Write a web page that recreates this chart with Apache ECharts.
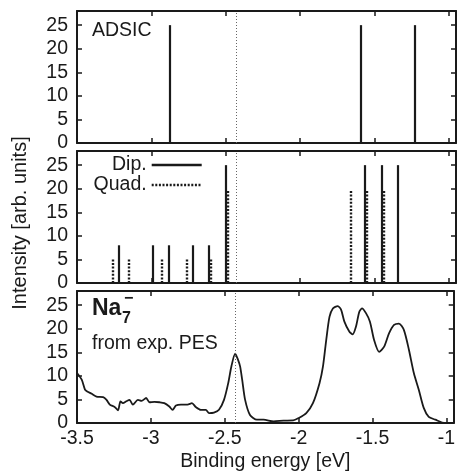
<!DOCTYPE html>
<html><head><meta charset="utf-8">
<script src="https://cdn.jsdelivr.net/npm/echarts@6/dist/echarts.min.js"></script>
<style>html,body{margin:0;padding:0;background:#fff}#c{width:458px;height:475px}</style>
</head><body><div id="c"></div>
<script>
// ---- data ----
const xTickLabels = ['-3.5', '-3', '-2.5', '-2', '-1.5', '-1'];
const yTickLabels = ['0', '5', '10', '15', '20', '25'];
const refLineE = -2.43;

const adsicE = [-2.875, -1.593, -1.228];
const adsicI = [25, 25, 25];

const dipE = [-3.218, -2.991, -2.880, -2.718, -2.611, -2.497, -1.563, -1.450, -1.341];
const dipI = [8, 8, 8, 8, 8, 25, 25, 25, 25];

const quadE = [-3.260, -3.149, -2.929, -2.759, -2.598, -2.485, -1.661, -1.549, -1.439];
const quadI = [5, 5, 5, 5, 5, 19.5, 19.5, 19.5, 19.5];

const pesE = [-3.5, -3.468, -3.446, -3.431, -3.401, -3.368, -3.323, -3.300, -3.278, -3.245, -3.222,
  -3.206, -3.189, -3.166, -3.144, -3.122, -3.088, -3.063, -3.032, -3.009, -2.976, -2.942, -2.909,
  -2.875, -2.853, -2.830, -2.796, -2.752, -2.722, -2.696, -2.662, -2.628, -2.606, -2.573, -2.539,
  -2.505, -2.476, -2.455, -2.429, -2.411, -2.396, -2.382, -2.362, -2.329, -2.282, -2.237, -2.169,
  -2.102, -2.037, -2.003, -1.948, -1.903, -1.858, -1.835, -1.813, -1.791, -1.768, -1.735, -1.712,
  -1.690, -1.657, -1.634, -1.612, -1.589, -1.571, -1.544, -1.517, -1.489, -1.455, -1.421, -1.388,
  -1.354, -1.321, -1.287, -1.253, -1.220, -1.186, -1.153, -1.119, -1.074, -1.029, -0.995];
const pesI = [10.6, 9.2, 7.1, 6.7, 6.2, 5.6, 5.5, 4.9, 3.9, 3.4, 2.7,
  4.6, 4.2, 4.6, 4.9, 3.9, 4.9, 4.7, 5.3, 4.4, 4.5, 4.4, 4.2,
  3.5, 2.8, 3.7, 3.9, 3.9, 4.2, 3.4, 2.8, 2.8, 2.1, 2.2, 2.8,
  4.9, 8.5, 12, 14.7, 13.5, 12, 9.2, 4.9, 1.7, 0.7, 0.7, 0.35,
  0.5, 0.55, 1.0, 2.1, 4.2, 8.5, 12, 17.6, 22.5, 24.3, 24.8, 24,
  21.5, 19.4, 18.8, 20.4, 23.6, 24.3, 23.3, 21.5, 17.6, 15.1, 16.2, 19,
  20.8, 21.1, 19.7, 15.5, 10.6, 7, 3.2, 1.3, 0.7, 0.1, 0];

// ---- styling ----
const FONT = "'Liberation Sans', Arial, sans-serif";
const INK = '#1a1a1a';
const FS = 19.5;

const grids = [
  { left: 77, width: 379, top: 11, height: 132 },
  { left: 77, width: 379, top: 151, height: 132 },
  { left: 77, width: 379, top: 291, height: 132 }
];

const xFmt = v => { const k = xTickLabels.indexOf(String(v)); return k >= 0 ? xTickLabels[k] : ''; };
const yFmt = v => { const k = yTickLabels.indexOf(String(v)); return k >= 0 ? yTickLabels[k] : ''; };

const xAxes = [], yAxes = [];
grids.forEach((g, i) => {
  ['bottom', 'top'].forEach(pos => {
    xAxes.push({
      type: 'value', gridIndex: i, position: pos, min: -3.5, max: -0.95, interval: 0.5,
      axisLine: { show: true, onZero: false, lineStyle: { color: INK, width: 2 } },
      axisTick: { show: true, inside: true, length: 5, lineStyle: { color: INK, width: 1.5 } },
      axisLabel: { show: (i === 2 && pos === 'bottom'), formatter: xFmt, showMaxLabel: false,
        color: INK, fontFamily: FONT, fontSize: FS, margin: 6 },
      splitLine: { show: false },
      name: (i === 2 && pos === 'bottom') ? 'Binding energy [eV]' : '',
      nameLocation: 'middle', nameGap: 29,
      nameTextStyle: { color: INK, fontFamily: FONT, fontSize: FS }
    });
  });
  ['left', 'right'].forEach(pos => {
    yAxes.push({
      type: 'value', gridIndex: i, position: pos, min: 0, max: 28, interval: 5,
      axisLine: { show: true, onZero: false, lineStyle: { color: INK, width: 2 } },
      axisTick: { show: true, inside: true, length: 5, lineStyle: { color: INK, width: 1.5 } },
      axisLabel: { show: pos === 'left', formatter: yFmt, showMaxLabel: false,
        color: INK, fontFamily: FONT, fontSize: FS, margin: 9 },
      splitLine: { show: false }
    });
  });
});

const refLineItem = { xAxis: refLineE, lineStyle: { color: '#666', width: 1, type: [1, 2] } };
const stick = (e, h) => [{ coord: [e, 0] }, { coord: [e, h] }];

function stickSeries(name, gi, E, I, lineStyle, withRef) {
  const data = E.map((e, k) => stick(e, I[k]));
  if (withRef) data.push(refLineItem);
  return {
    name: name, type: 'line', xAxisIndex: 2 * gi, yAxisIndex: 2 * gi, data: [],
    showSymbol: false, symbol: 'none', lineStyle: lineStyle, itemStyle: { color: INK },
    markLine: { silent: true, symbol: ['none', 'none'], label: { show: false },
      lineStyle: lineStyle, data: data, animation: false }
  };
}

const solid = { color: INK, width: 2.2, type: 'solid' };
const dotted = { color: INK, width: 2.4, type: [2, 1.6] };

const legendBase = { right: 255, align: 'right', padding: 0, itemWidth: 50, itemHeight: 14,
  itemStyle: { opacity: 0, borderWidth: 0 }, lineStyle: { width: 2.6 },
  selectedMode: false, textStyle: { color: INK, fontFamily: FONT, fontSize: FS } };

const option = {
  animation: false,
  backgroundColor: '#fff',
  textStyle: { fontFamily: FONT },
  grid: grids,
  xAxis: xAxes,
  yAxis: yAxes,
  legend: [
    Object.assign({ data: ['Dip.'], top: 155 }, legendBase),
    Object.assign({ data: ['Quad.'], top: 175 }, legendBase)
  ],
  series: [
    stickSeries('ADSIC', 0, adsicE, adsicI, solid, true),
    stickSeries('Dip.', 1, dipE, dipI, solid, true),
    stickSeries('Quad.', 1, quadE, quadI, dotted, false),
    {
      name: 'PES', type: 'line', xAxisIndex: 4, yAxisIndex: 4,
      data: pesE.map((e, k) => [e, pesI[k]]),
      showSymbol: false, smooth: 0.25,
      lineStyle: { color: INK, width: 1.8 },
      markLine: { silent: true, symbol: ['none', 'none'], label: { show: false }, data: [refLineItem] }
    }
  ],
  graphic: [
    { type: 'text', left: 92, top: 21, style: { text: 'ADSIC', fill: INK, font: FS + 'px ' + FONT } },
    { type: 'text', x: 92, y: 309, style: { text: 'Na', fill: INK, font: 'bold 23px ' + FONT, textVerticalAlign: 'middle' } },
    { type: 'text', x: 122, y: 319, style: { text: '7', fill: INK, font: 'bold 16px ' + FONT, textVerticalAlign: 'middle' } },
    { type: 'text', x: 124, y: 299, style: { text: '\u2212', fill: INK, font: 'bold 16px ' + FONT, textVerticalAlign: 'middle' } },
    { type: 'text', x: 92, y: 344, style: { text: 'from exp. PES', fill: INK, font: FS + 'px ' + FONT, textVerticalAlign: 'middle' } },
    { type: 'text', x: 20, y: 223, rotation: Math.PI / 2,
      style: { text: 'Intensity [arb. units]', fill: INK, font: '20px ' + FONT, textAlign: 'center', textVerticalAlign: 'middle' } }
  ]
};

const chart = echarts.init(document.getElementById('c'), null, { renderer: 'canvas' });
chart.setOption(option);
</script></body></html>
